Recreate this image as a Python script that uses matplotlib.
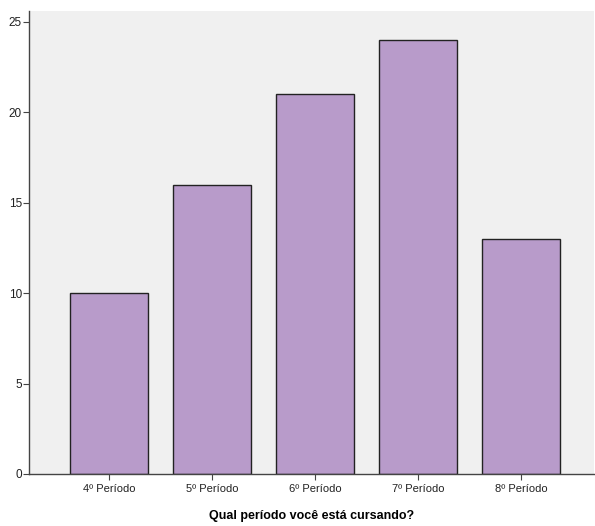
import numpy as np
import matplotlib.pyplot as plt

plt.rcParams['font.family'] = ['Liberation Sans', 'DejaVu Sans']

categorias = ['4º Período', '5º Período', '6º Período', '7º Período', '8º Período']
contagens = [10, 16, 21, 24, 13]

fig = plt.figure(figsize=(5.95, 5.26), dpi=100)
ax = fig.add_axes([0.0487, 0.0989, 0.9496, 0.880])
ax.set_facecolor('#F0F0F0')

x = np.arange(len(categorias))
ax.bar(x, contagens, width=0.757, color='#B89BCA', edgecolor='#222222', linewidth=1.0)

ax.set_xlim(-0.777, 4.71)
ax.set_ylim(0, 25.6)
ax.set_yticks([0, 5, 10, 15, 20, 25])
ax.set_xticks(x)
ax.set_xticklabels(categorias, fontsize=8)
ax.tick_params(axis='y', labelsize=8.5, length=4, color='#444444', pad=1, labelcolor='#222222')
ax.tick_params(axis='x', length=4, color='#444444', pad=3, labelcolor='#222222')

for s in ['top', 'right']:
    ax.spines[s].set_visible(False)
for s in ['left', 'bottom']:
    ax.spines[s].set_color('#444444')
    ax.spines[s].set_linewidth(1.0)

ax.set_xlabel('Qual período você está cursando?', fontsize=9, fontweight='bold', labelpad=12)

fig.savefig('out.png', dpi=100)
